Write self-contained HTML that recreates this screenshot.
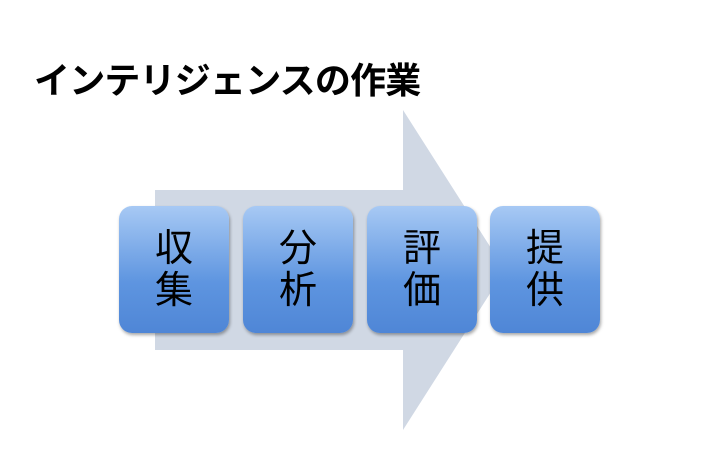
<!DOCTYPE html>
<html><head><meta charset="utf-8"><style>
body{margin:0;width:719px;height:458px;background:#fff;position:relative;overflow:hidden;font-family:"Liberation Sans","Noto Sans CJK JP",sans-serif}
.t{position:absolute;left:34px;top:52px;font-size:36px;font-weight:bold;color:#000;letter-spacing:-0.8px;white-space:nowrap}
.b{position:absolute;top:206px;width:110px;height:127px;border-radius:13px;background:linear-gradient(#a7c9f4,#5e95e0 60%,#4f86d6);box-shadow:1px 2px 3px rgba(0,0,0,.35);display:flex;align-items:center;justify-content:center;text-align:center;font-size:38px;line-height:42px;color:#000}
</style></head><body>
<div class="t">インテリジェンスの作業</div>
<svg style="position:absolute;left:0;top:0" width="719" height="458"><polygon points="155,190 403,190 403,110 505,270 403,430 403,350 155,350" fill="#d0d8e4"/></svg>
<div class="b" style="left:119px">収<br>集</div>
<div class="b" style="left:243px">分<br>析</div>
<div class="b" style="left:367px">評<br>価</div>
<div class="b" style="left:490px">提<br>供</div>
</body></html>
